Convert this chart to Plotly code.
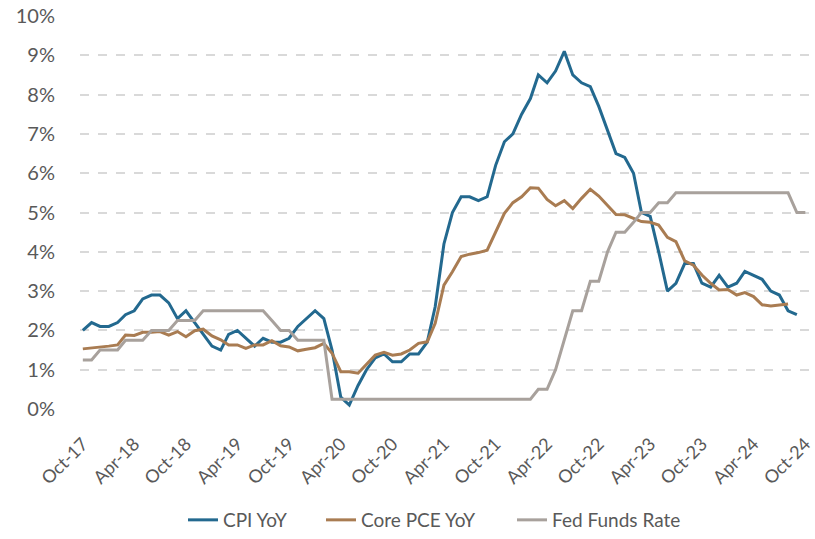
import plotly.graph_objects as go
import pandas as pd

# Monthly dates Oct-2017 .. Oct-2024
dates = pd.date_range("2017-10-01", periods=85, freq="MS")

cpi_yoy = [
    2.0, 2.2, 2.1, 2.1, 2.2, 2.4, 2.5, 2.8, 2.9, 2.9, 2.7, 2.3,
    2.5, 2.2, 1.9, 1.6, 1.5, 1.9, 2.0, 1.8, 1.6, 1.8, 1.7, 1.7,
    1.8, 2.1, 2.3, 2.5, 2.3, 1.5, 0.3, 0.1, 0.6, 1.0, 1.3, 1.4,
    1.2, 1.2, 1.4, 1.4, 1.7, 2.6, 4.2, 5.0, 5.4, 5.4, 5.3, 5.4,
    6.2, 6.8, 7.0, 7.5, 7.9, 8.5, 8.3, 8.6, 9.1, 8.5, 8.3, 8.2,
    7.7, 7.1, 6.5, 6.4, 6.0, 5.0, 4.9, 4.0, 3.0, 3.2, 3.7, 3.7,
    3.2, 3.1, 3.4, 3.1, 3.2, 3.5, 3.4, 3.3, 3.0, 2.9, 2.5, 2.4,
]

core_pce_yoy = [
    1.53, 1.55, 1.57, 1.60, 1.63, 1.88, 1.87, 1.95, 1.95, 1.97, 1.88, 1.97,
    1.84, 1.99, 2.03, 1.86, 1.76, 1.63, 1.63, 1.54, 1.63, 1.63, 1.74, 1.61,
    1.58, 1.48, 1.52, 1.56, 1.67, 1.42, 0.95, 0.95, 0.91, 1.14, 1.37, 1.44,
    1.37, 1.40, 1.50, 1.67, 1.71, 2.18, 3.15, 3.49, 3.88, 3.94, 3.98, 4.04,
    4.50, 4.98, 5.25, 5.40, 5.63, 5.62, 5.33, 5.17, 5.30, 5.10, 5.36, 5.59,
    5.42, 5.17, 4.95, 4.94, 4.85, 4.77, 4.75, 4.68, 4.37, 4.26, 3.77, 3.66,
    3.41, 3.20, 3.03, 3.04, 2.90, 2.96, 2.86, 2.65, 2.62, 2.65, 2.67,
]

fed_funds = [
    1.25, 1.25, 1.50, 1.50, 1.50, 1.75, 1.75, 1.75, 2.00, 2.00, 2.00, 2.25,
    2.25, 2.25, 2.50, 2.50, 2.50, 2.50, 2.50, 2.50, 2.50, 2.50, 2.25, 2.00,
    2.00, 1.75, 1.75, 1.75, 1.75, 0.25, 0.25, 0.25, 0.25, 0.25, 0.25, 0.25,
    0.25, 0.25, 0.25, 0.25, 0.25, 0.25, 0.25, 0.25, 0.25, 0.25, 0.25, 0.25,
    0.25, 0.25, 0.25, 0.25, 0.25, 0.50, 0.50, 1.00, 1.75, 2.50, 2.50, 3.25,
    3.25, 4.00, 4.50, 4.50, 4.75, 5.00, 5.00, 5.25, 5.25, 5.50, 5.50, 5.50,
    5.50, 5.50, 5.50, 5.50, 5.50, 5.50, 5.50, 5.50, 5.50, 5.50, 5.50, 5.00,
    5.00,
]

tick_dates = dates[::6]
tick_labels = [d.strftime("%b-%y") for d in tick_dates]
y_ticks = list(range(0, 11))

series_names = ["CPI YoY", "Core PCE YoY", "Fed Funds Rate"]
series_values = [cpi_yoy, core_pce_yoy, fed_funds]
series_colors = ["#23698F", "#A97C52", "#A8A19C"]
legend_ids = ["legend", "legend2", "legend3"]
legend_x_px = [183, 321, 512]   # left edge of each legend box (px)

font_family = "Lato, 'Open Sans', sans-serif"
W, H = 815, 539
ML, MR, MT, MB = 80, 1, 16, 130

fig = go.Figure()
for name, vals, color, lid in zip(series_names, series_values, series_colors, legend_ids):
    fig.add_trace(go.Scatter(
        x=dates[:len(vals)],
        y=[v / 100 for v in vals],
        mode="lines",
        name=name,
        legend=lid,
        line=dict(color=color, width=3),
    ))

legends = {}
for lid, xpx in zip(legend_ids, legend_x_px):
    legends[lid] = dict(
        orientation="h",
        xref="container",
        yref="container",
        x=xpx / W,
        xanchor="left",
        y=(H - 520) / H,
        yanchor="middle",
        font=dict(size=19, color="#595959", family=font_family),
        bgcolor="rgba(0,0,0,0)",
    )

fig.update_layout(
    width=W,
    height=H,
    autosize=False,
    margin=dict(l=ML, r=MR, t=MT, b=MB),
    paper_bgcolor="white",
    plot_bgcolor="white",
    font=dict(family=font_family, color="#595959", size=19),
    showlegend=True,
    xaxis=dict(
        range=[pd.Timestamp("2017-09-21"), pd.Timestamp("2024-10-14")],
        tickvals=tick_dates,
        ticktext=tick_labels,
        tickangle=-45,
        showgrid=False,
        zeroline=False,
        showline=False,
        ticks="",
        ticklabelstandoff=20,
        ticklabeloverflow="allow",
        tickfont=dict(size=18, color="#595959"),
    ),
    yaxis=dict(
        range=[0, 0.10],
        tickvals=[v / 100 for v in y_ticks],
        tickformat=".0%",
        showgrid=True,
        gridcolor="#D9D9D9",
        griddash="dash",
        gridwidth=1.5,
        zeroline=False,
        showline=False,
        ticks="",
        ticklabelstandoff=24,
        tickfont=dict(size=20, color="#595959"),
    ),
    **legends,
)

fig.write_html(
    "out.html",
    config={"displayModeBar": False},
    post_script="document.body.style.margin='0';",
)
